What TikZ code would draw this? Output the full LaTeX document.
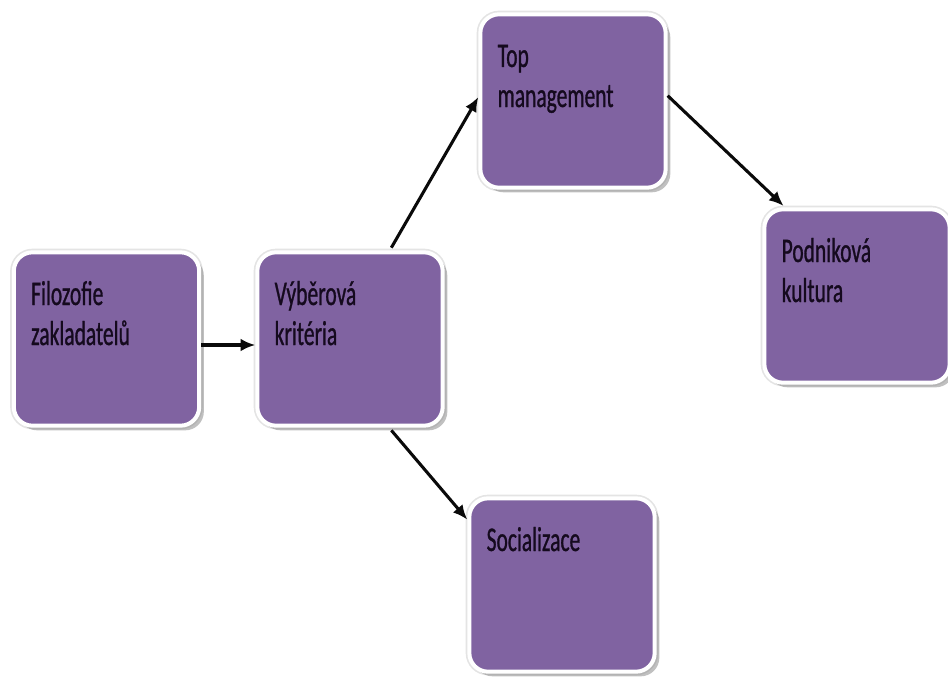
\documentclass[tikz,border=0pt]{standalone}
\usepackage{fontspec}
\usepackage{xcolor}
\usepackage{tikz}
\usetikzlibrary{arrows.meta, positioning, shadows}
\newfontfamily\boxfont[FakeStretch=0.62, FakeBold=0.8]{Carlito}
\definecolor{boxpurple}{HTML}{8063A1}
\definecolor{halo}{HTML}{E4E4E4}
\definecolor{darkgray}{HTML}{0A0A0A}
\definecolor{textink}{HTML}{150A1E}
\newcommand{\boxtext}[1]{\parbox[c][103pt][t]{113pt}{\raggedright\rule{0pt}{26pt}#1}}

\begin{document}
\begin{tikzpicture}[
    x=0.75pt, y=-0.75pt,
    box/.style={rectangle, rounded corners=14pt, fill=boxpurple, draw=white, line width=3pt,
        preaction={draw=halo, line width=5.5pt},
        drop shadow={shadow xshift=3.5pt, shadow yshift=-3.5pt, fill=black!45, opacity=0.55},
        inner xsep=13pt, inner ysep=13.5pt, font=\boxfont\fontsize{26pt}{30pt}\selectfont, text=textink},
    arrow/.style={line width=2.3pt, -{Latex[length=11pt, width=9.5pt]}, color=darkgray}
]
\useasboundingbox (0,0) rectangle (948,681);

% Nodes
\node[box] (filozofie) at (106.5,339) {\boxtext{Filozofie\\zakladatelů}};
\node[box] (kriteria) at (350,339) {\boxtext{Výběrová\\kritéria}};
\node[box] (top) at (573,101) {\boxtext{Top\\management}};
\node[box] (kultura) at (857,296) {\boxtext{Podniková\\kultura}};
\node[box] (socializace) at (562,585) {\boxtext{Socializace}};

% Arrows
\draw[arrow] ([yshift=-4.5pt]filozofie.east) -- ([yshift=-4.5pt]kriteria.west);
\draw[arrow] ([xshift=31pt, yshift=2pt]kriteria.north) -- ([yshift=3pt]top.west);
\draw[arrow] ([yshift=4pt]top.east) -- ([xshift=-55pt, yshift=1pt]kultura.north);
\draw[arrow] ([xshift=31pt, yshift=-2pt]kriteria.south) -- ([yshift=49pt]socializace.west);

\end{tikzpicture}
\end{document}
